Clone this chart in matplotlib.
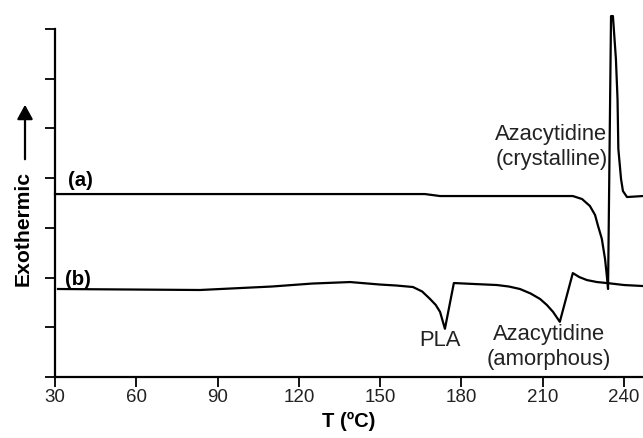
import matplotlib.pyplot as plt
from matplotlib.patches import FancyArrowPatch

plt.rcParams['font.family'] = ['Liberation Sans', 'DejaVu Sans']

# curve (a): azacytidine crystalline
temp_a = [30, 166.5, 172.1, 213.8, 221.1, 224.5, 227.4, 229.3, 230.4, 231.8, 233.0,
          233.7, 234.1, 235.2, 235.9, 237.0, 237.6, 237.9, 238.9, 239.6, 241.1, 247.0]
heat_a = [3.68, 3.68, 3.64, 3.64, 3.64, 3.58, 3.44, 3.26, 3.04, 2.78, 2.37,
          2.01, 1.77, 7.26, 7.26, 6.40, 5.59, 4.59, 3.98, 3.74, 3.62, 3.64]

# curve (b): PLA + amorphous azacytidine
temp_b = [31.1, 83.5, 110, 125, 138.9, 149.9, 156, 162.1, 165.5, 168.4, 170.5, 172.1,
          173.9, 177.2, 185, 193.1, 197.5, 201.6, 205.5, 209.0, 211.5, 213.8, 216.3,
          221.1, 223.5, 226.3, 230, 233.7, 240, 247.0]
heat_b = [1.77, 1.75, 1.82, 1.88, 1.91, 1.86, 1.84, 1.81, 1.72, 1.57, 1.45, 1.31,
          0.97, 1.89, 1.87, 1.85, 1.82, 1.77, 1.68, 1.57, 1.45, 1.31, 1.11,
          2.09, 2.01, 1.95, 1.91, 1.89, 1.85, 1.83]

xticks = [30, 60, 90, 120, 150, 180, 210, 240]

fig = plt.figure(figsize=(6.43, 4.39), dpi=100)
ax = fig.add_axes([55 / 643, 61 / 439, 588 / 643, 348 / 439])

ax.plot(temp_a, heat_a, color='black', lw=1.6, clip_on=False)
ax.plot(temp_b, heat_b, color='black', lw=1.6, clip_on=False)

ax.set_xlim(30, 247)
ax.set_ylim(0, 7)
ax.set_xticks(xticks)
ax.set_yticks(range(8))
ax.set_yticklabels([])
ax.tick_params(axis='both', direction='out', length=7, width=1.3, color='black')
ax.tick_params(axis='x', labelsize=13.5, pad=1, labelcolor='#222222')
for s in ['top', 'right']:
    ax.spines[s].set_visible(False)
for s in ['left', 'bottom']:
    ax.spines[s].set_linewidth(1.6)

ax.set_xlabel('T (ºC)', fontsize=14.5, fontweight='bold', labelpad=4)

ax.text(34.8, 3.98, '(a)', fontsize=14.7, fontweight='bold', va='center', ha='left')
ax.text(33.7, 1.99, '(b)', fontsize=14.7, fontweight='bold', va='center', ha='left')
ax.text(213.2, 4.64, 'Azacytidine\n(crystalline)', fontsize=15.8, ha='center', va='center',
        linespacing=1.25, color='#222222')
ax.text(172.1, 0.76, 'PLA', fontsize=15.8, ha='center', va='center', color='#222222')
ax.text(212.3, 0.62, 'Azacytidine\n(amorphous)', fontsize=15.8, ha='center', va='center',
        linespacing=1.25, color='#222222')

# y label with arrow
fig.text(23 / 643, 1 - 228.5 / 439, 'Exothermic', rotation=90, fontsize=15.2,
         fontweight='bold', ha='center', va='center')
fig.patches.append(FancyArrowPatch(
    (25 / 643, 1 - 163 / 439), (25 / 643, 1 - 103 / 439), transform=fig.transFigure,
    arrowstyle='-|>,head_length=0.62,head_width=0.34', mutation_scale=14,
    lw=1.6, color='black'))

fig.savefig('out.png', dpi=100)
